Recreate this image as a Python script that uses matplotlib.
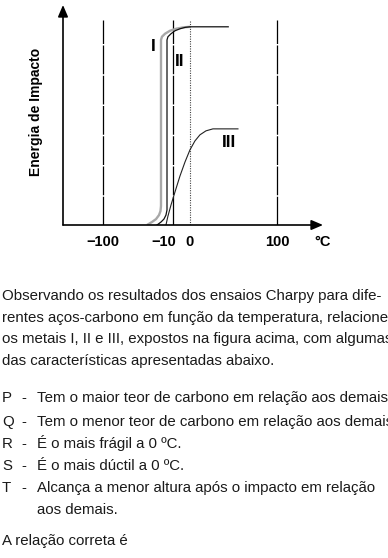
import numpy as np
import matplotlib
matplotlib.use("Agg")
import matplotlib.pyplot as plt

plt.rcParams["font.family"] = ["Liberation Sans", "DejaVu Sans"]

# Charpy curves (temperature in degC, impact energy in arbitrary units)
curve_I_T = [-49.4, -43.7, -39.0, -35.6, -33.9, -33.3, -33.3, -32.2, -28.7, -23.0, -16.1, -8.0, 0.0]
curve_I_E = [0, 1.5, 3.0, 5.0, 7.0, 9.6, 93.4, 95.0, 96.5, 98.0, 99.0, 99.7, 100]

curve_II_T = [-37.9, -33.3, -29.9, -27.6, -26.4, -26.4, -25.3, -21.8, -17.2, -11.5, -5.7, 0.0, 44.0]
curve_II_E = [0, 1.5, 3.0, 5.0, 7.6, 93.4, 95.0, 96.5, 98.0, 99.0, 99.7, 100, 100]

curve_III_T = [-27.6, -25.3, -21.8, -17.2, -11.5, -5.7, 0.0, 5.7, 11.5, 18.4, 26.4, 55.2]
curve_III_E = [0, 4.5, 10.1, 16.7, 24.7, 31.8, 37.9, 42.4, 45.5, 47.5, 48.5, 48.5]

ref_T = [-100, -20, 0, 100]
ref_top = 103.5
tick_T = [-100, -30, 0, 100]
tick_labels = ["\u2212100", "\u221210", "0", "100"]

text_lines = [
    "Observando os resultados dos ensaios Charpy para dife-",
    "rentes aços-carbono em função da temperatura, relacione",
    "os metais I, II e III, expostos na figura acima, com algumas",
    "das características apresentadas abaixo.",
]
items = [
    ("P", "Tem o maior teor de carbono em relação aos demais."),
    ("Q", "Tem o menor teor de carbono em relação aos demais."),
    ("R", "É o mais frágil a 0 ºC."),
    ("S", "É o mais dúctil a 0 ºC."),
    ("T", "Alcança a menor altura após o impacto em relação"),
    ("", "aos demais."),
]
final_line = "A relação correta é"

W, H = 388, 558
fig = plt.figure(figsize=(W / 100, H / 100), dpi=100)
ax = fig.add_axes([63 / W, 1 - 225 / H, 260 / W, 220 / H])
ax.set_xlim(-146, 153)
ax.set_ylim(0, 111)
for s in ax.spines.values():
    s.set_visible(False)

# reference lines
for t in ref_T:
    if t == 0:
        ax.plot([t, t], [0, ref_top], color="#444444", lw=0.8, ls=(0, (1, 1.2)))
    else:
        ax.plot([t, t], [0, ref_top], color="black", lw=0.9, ls=(0, (23, 1.2)))

ax.plot(curve_I_T, curve_I_E, color="#a8a8a8", lw=1.7, solid_capstyle="butt")
ax.plot(curve_II_T, curve_II_E, color="#111111", lw=0.9)
ax.plot(curve_III_T, curve_III_E, color="#222222", lw=0.8)

ax.text(-42.5, 90, "I", fontsize=12.5, fontweight="bold", ha="center", va="center")
ax.text(-11.5, 82.3, "II", fontsize=12.5, fontweight="bold", ha="center", va="center")
ax.text(44.8, 41.4, "III", fontsize=12.5, fontweight="bold", ha="center", va="center")

# axes arrows
arrow = dict(arrowstyle="-|>,head_length=0.7,head_width=0.3", color="black", lw=1.2,
             shrinkA=0, shrinkB=0)
ax.annotate("", xy=(0, 1), xytext=(0, 0), xycoords="axes fraction", arrowprops=arrow)
ax.annotate("", xy=(1, 0), xytext=(0, 0), xycoords="axes fraction", arrowprops=arrow)

ax.set_yticks([])
ax.set_xticks(tick_T)
ax.set_xticklabels(tick_labels, fontsize=10.5, fontweight="bold")
ax.tick_params(axis="x", length=0, pad=7)
ax.annotate("°C", xy=(1, 0), xycoords="axes fraction", xytext=(0, -12.3),
            textcoords="offset points", ha="center", va="center",
            fontsize=10.5, fontweight="bold")
ax.set_ylabel("Energia de Impacto", fontsize=10, fontweight="bold")
ax.yaxis.set_label_coords(-20 / 260, 113 / 220)

# question text (the reference is cropped at the right edge)
def put(x, y, s):
    fig.text(x / W, 1 - y / H, s, fontsize=10.8, color="#1a1a1a", va="baseline", ha="left")

for i, line in enumerate(text_lines):
    put(2, 300 + i * 21.7, line)

item_y = [402, 426, 448, 470, 492, 514]
for (lab, s), y in zip(items, item_y):
    if lab:
        put(2, y, lab)
        put(21, y, "-")
    put(37, y, s)

put(2, 545, final_line)

fig.savefig("out.png", dpi=100)
